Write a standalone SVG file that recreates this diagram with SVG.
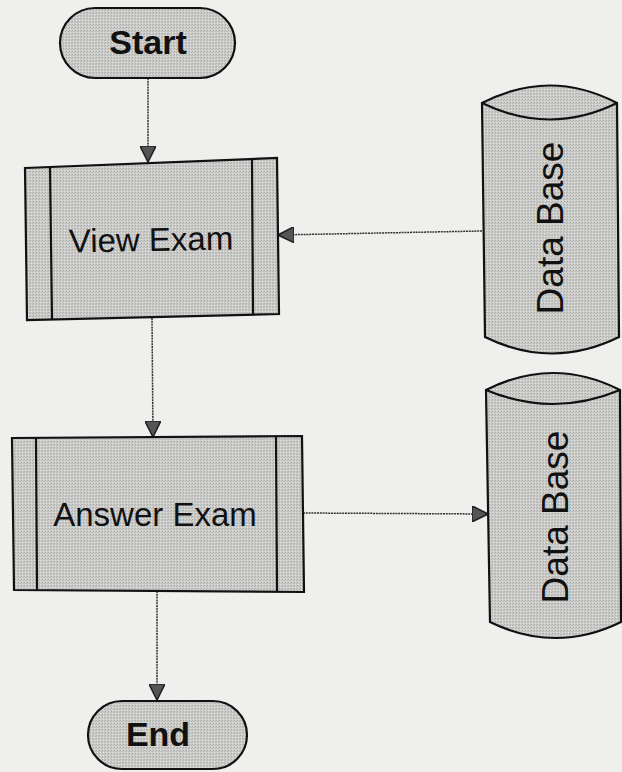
<svg xmlns="http://www.w3.org/2000/svg" width="622" height="772" viewBox="0 0 622 772">
  <defs>
    <pattern id="grain" width="3" height="3" patternUnits="userSpaceOnUse">
      <rect width="3" height="3" fill="#cbcbc9"/>
      <rect x="0" y="0" width="1" height="1" fill="#a9a9a7"/>
      <rect x="2" y="1" width="1" height="1" fill="#b4b4b2"/>
      <rect x="1" y="2" width="1" height="1" fill="#e2e2e0"/>
    </pattern>
    <marker id="arrow" viewBox="0 0 10 10" refX="10" refY="5" markerWidth="16" markerHeight="16" markerUnits="userSpaceOnUse" orient="auto">
      <path d="M0,0 L10,5 L0,10 Z" fill="#555" stroke="#222" stroke-width="1"/>
    </marker>
    <style>
      .shape { fill: url(#grain); stroke: #111; stroke-width: 2.2; }
      .divider { fill: none; stroke: #111; stroke-width: 2.2; }
      .edge { fill: none; stroke: #333; stroke-width: 1.5; stroke-dasharray: 2 0.8; marker-end: url(#arrow); }
      .label { font-family: "Liberation Sans", Arial, sans-serif; fill: #111; text-anchor: middle; }
      .bold { font-weight: bold; font-size: 34px; }
      .plain { font-size: 33px; }
      .db { font-size: 37px; }
    </style>
  </defs>

  <rect width="622" height="772" fill="#efefed"/>

  <!-- connectors -->
  <g id="connectors">
    <path class="edge" d="M148,78 L148,162"/>
    <path class="edge" d="M482,231 L278,235"/>
    <path class="edge" d="M152,318 L153,437"/>
    <path class="edge" d="M303,513 L488,514"/>
    <path class="edge" d="M157,591 L157,700"/>
  </g>

  <!-- start terminator -->
  <g id="start">
    <rect class="shape" x="60" y="8" width="175" height="70" rx="35" ry="35"/>
    <text class="label bold" x="148" y="54">Start</text>
  </g>

  <!-- view exam process -->
  <g id="view-exam">
    <path class="shape" d="M25,168 L277,158 L279,314 L27,320 Z"/>
    <path class="divider" d="M50,167 L52,319 M252,159 L253,315"/>
    <text class="label plain" x="151" y="251" transform="rotate(-1 151 240)">View Exam</text>
  </g>

  <!-- answer exam process -->
  <g id="answer-exam">
    <path class="shape" d="M12,438 L302,436 L304,592 L14,590 Z"/>
    <path class="divider" d="M36,438 L37,590 M276,436 L277,591"/>
    <text class="label plain" x="155" y="526">Answer Exam</text>
  </g>

  <!-- database feeding view exam -->
  <g id="database-1">
    <path class="shape" d="M482,103 Q550,68 617,103 L619,337 Q552,370 485,337 Z"/>
    <path class="divider" d="M482,103 Q550,136 617,103"/>
    <text class="label db" x="0" y="0" transform="translate(563,228) rotate(-90)">Data Base</text>
  </g>

  <!-- database receiving answers -->
  <g id="database-2">
    <path class="shape" d="M486,390 Q553,356 620,390 L621,622 Q556,654 490,622 Z"/>
    <path class="divider" d="M486,390 Q553,418 620,390"/>
    <text class="label db" x="0" y="0" transform="translate(568,517) rotate(-90)">Data Base</text>
  </g>

  <!-- end terminator -->
  <g id="end">
    <rect class="shape" x="88" y="701" width="159" height="68" rx="34" ry="34"/>
    <text class="label bold" x="158" y="746">End</text>
  </g>
</svg>
